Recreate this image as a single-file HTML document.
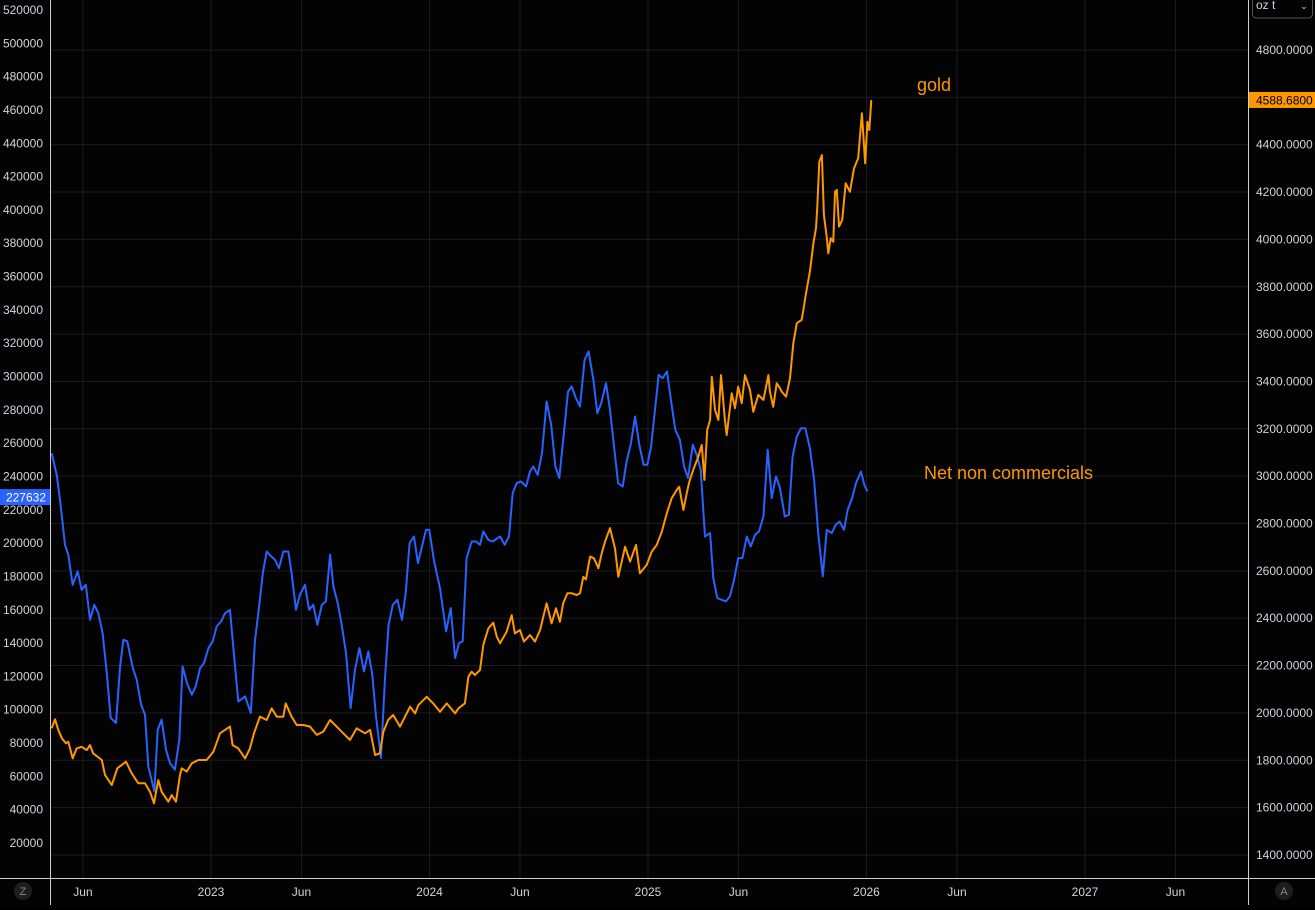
<!DOCTYPE html>
<html><head><meta charset="utf-8"><style>
html,body{margin:0;padding:0;background:#000;}
body{width:1315px;height:905px;overflow:hidden;font-family:"Liberation Sans",sans-serif;}
svg text{font-family:"Liberation Sans",sans-serif;}
</style></head><body>
<svg id="chart" width="1315" height="905" xmlns="http://www.w3.org/2000/svg">
<rect x="0" y="0" width="1315" height="905" fill="#030303"/>
<g id="grid"></g>
<g id="series"></g>
<g id="axes"></g>
<text x="917" y="91" fill="#ff9800" font-size="18">gold</text>
<text x="924" y="479" fill="#ff9800" font-size="18">Net non commercials</text>
</svg>
<script>
const blueT=[2022.271,2022.294,2022.309,2022.321,2022.332,2022.347,2022.367,2022.390,2022.408,2022.427,2022.446,2022.466,2022.484,2022.504,2022.523,2022.541,2022.565,2022.584,2022.599,2022.617,2022.642,2022.660,2022.680,2022.698,2022.713,2022.741,2022.756,2022.774,2022.794,2022.812,2022.835,2022.855,2022.870,2022.890,2022.912,2022.930,2022.950,2022.968,2022.988,2023.008,2023.026,2023.046,2023.065,2023.087,2023.107,2023.125,2023.156,2023.182,2023.201,2023.220,2023.237,2023.255,2023.275,2023.293,2023.311,2023.331,2023.354,2023.369,2023.389,2023.407,2023.430,2023.449,2023.468,2023.487,2023.507,2023.526,2023.545,2023.560,2023.580,2023.598,2023.618,2023.639,2023.659,2023.679,2023.700,2023.720,2023.738,2023.755,2023.778,2023.796,2023.813,2023.832,2023.853,2023.874,2023.891,2023.909,2023.929,2023.947,2023.964,2023.984,2023.999,2024.021,2024.048,2024.076,2024.097,2024.117,2024.135,2024.152,2024.170,2024.193,2024.213,2024.231,2024.246,2024.269,2024.289,2024.323,2024.344,2024.364,2024.381,2024.399,2024.419,2024.442,2024.460,2024.475,2024.495,2024.515,2024.536,2024.557,2024.576,2024.594,2024.612,2024.634,2024.651,2024.670,2024.689,2024.710,2024.728,2024.750,2024.768,2024.786,2024.808,2024.826,2024.846,2024.863,2024.884,2024.902,2024.921,2024.941,2024.960,2024.980,2024.997,2025.014,2025.032,2025.049,2025.067,2025.087,2025.105,2025.125,2025.146,2025.165,2025.183,2025.205,2025.223,2025.241,2025.261,2025.284,2025.299,2025.317,2025.356,2025.375,2025.394,2025.413,2025.432,2025.452,2025.470,2025.490,2025.508,2025.528,2025.548,2025.566,2025.586,2025.604,2025.626,2025.645,2025.662,2025.681,2025.700,2025.720,2025.741,2025.760,2025.779,2025.800,2025.818,2025.841,2025.859,2025.877,2025.897,2025.914,2025.934,2025.952,2025.975,2025.990,2026.004];
const blueV=[254,241,226,212,199,193,175,183,172,175,154,163,158,146,122,95,92,126,142,141,125,118,103,97,66,51,88,94,76,68,64,82,126,116,109,114,125,128,137,141,150,153,158,160,130,105,108,98,141,162,182,195,192,190,185,195,195,182,160,169,175,160,163,151,163,165,193,174,164,151,134,101,124,137,123,135,121,96,71,118,151,163,166,154,170,200,204,188,197,208,208,189,173,147,161,131,140,141,191,201,201,199,207,202,201,204,199,204,230,236,237,234,243,246,241,254,285,271,246,239,262,291,294,287,282,310,315,298,278,284,296,280,256,236,234,249,259,276,259,247,247,258,280,301,299,303,286,268,262,246,239,259,253,244,204,206,179,167,165,168,178,191,191,204,198,205,207,216,256,227,240,233,216,217,252,264,269,269,257,238,206,180,208,206,211,213,208,220,227,236,243,235,231];
const goldT=[2022.271,2022.286,2022.301,2022.317,2022.336,2022.347,2022.367,2022.385,2022.408,2022.431,2022.446,2022.461,2022.500,2022.515,2022.546,2022.571,2022.611,2022.637,2022.667,2022.698,2022.721,2022.739,2022.759,2022.774,2022.805,2022.820,2022.840,2022.858,2022.866,2022.889,2022.912,2022.942,2022.980,2023.011,2023.041,2023.064,2023.087,2023.099,2023.125,2023.156,2023.178,2023.197,2023.224,2023.255,2023.278,2023.301,2023.331,2023.342,2023.369,2023.392,2023.422,2023.453,2023.484,2023.514,2023.545,2023.575,2023.613,2023.636,2023.667,2023.705,2023.728,2023.751,2023.773,2023.789,2023.811,2023.834,2023.865,2023.888,2023.911,2023.934,2023.949,2023.987,2024.017,2024.048,2024.079,2024.117,2024.132,2024.162,2024.178,2024.193,2024.208,2024.231,2024.246,2024.269,2024.292,2024.308,2024.323,2024.353,2024.376,2024.391,2024.414,2024.432,2024.460,2024.483,2024.506,2024.536,2024.559,2024.579,2024.597,2024.612,2024.631,2024.651,2024.674,2024.689,2024.704,2024.716,2024.735,2024.753,2024.773,2024.788,2024.803,2024.826,2024.849,2024.864,2024.895,2024.918,2024.945,2024.963,2024.994,2025.017,2025.040,2025.063,2025.086,2025.108,2025.131,2025.143,2025.162,2025.177,2025.189,2025.207,2025.230,2025.246,2025.258,2025.271,2025.284,2025.292,2025.307,2025.322,2025.334,2025.352,2025.360,2025.383,2025.398,2025.413,2025.429,2025.444,2025.467,2025.482,2025.505,2025.528,2025.551,2025.558,2025.573,2025.589,2025.604,2025.612,2025.632,2025.650,2025.665,2025.681,2025.703,2025.711,2025.723,2025.741,2025.757,2025.769,2025.775,2025.784,2025.796,2025.805,2025.818,2025.825,2025.836,2025.848,2025.856,2025.864,2025.874,2025.889,2025.905,2025.924,2025.943,2025.962,2025.979,2025.994,2026.004,2026.013,2026.022];
const goldV=[1935,1973,1928,1893,1872,1878,1808,1850,1857,1843,1864,1829,1801,1738,1695,1766,1794,1745,1703,1703,1667,1618,1716,1667,1625,1653,1625,1738,1766,1752,1787,1801,1801,1836,1914,1928,1942,1864,1850,1808,1850,1914,1984,1970,2019,1984,1984,2040,1984,1949,1949,1942,1907,1921,1970,1942,1907,1886,1935,1914,1928,1822,1829,1921,1970,1991,1942,1984,2026,1998,2033,2068,2040,2005,2040,1998,2019,2040,2153,2174,2160,2181,2287,2357,2381,2322,2294,2343,2413,2336,2350,2301,2329,2301,2350,2463,2378,2442,2385,2463,2505,2505,2498,2505,2575,2564,2660,2653,2611,2674,2723,2780,2695,2575,2702,2639,2709,2590,2625,2681,2709,2765,2843,2906,2941,2955,2857,2927,2976,3026,3082,3132,2984,3195,3237,3420,3279,3237,3427,3237,3174,3350,3287,3378,3308,3427,3364,3272,3343,3322,3427,3357,3293,3392,3371,3357,3336,3413,3561,3646,3660,3702,3772,3864,3984,4047,4138,4328,4356,4103,4011,3941,4005,3990,4201,4209,4054,4082,4237,4201,4300,4343,4533,4321,4497,4462,4589];
const leftTicks=[20,40,60,80,100,120,140,160,180,200,220,240,260,280,300,320,340,360,380,400,420,440,460,480,500,520];
const rightTicks=[1400,1600,1800,2000,2200,2400,2600,2800,3000,3200,3400,3600,3800,4000,4200,4400,4600,4800];
const xTickT=[2022.414,2023.0,2023.414,2024.0,2024.414,2025.0,2025.414,2026.0,2026.414,2027.0,2027.414];
const xTickLbl=["Jun","2023","Jun","2024","Jun","2025","Jun","2026","Jun","2027","Jun"];
const lastBlue=227632, lastGold="4588.6800";

const NS="http://www.w3.org/2000/svg";
function xOf(t){return 211+(t-2023)*218.5;}
function yL(k){return 10+(520-k)/20*33.32;}
function yR(v){return 50+(4800-v)/200*47.35;}
function mk(tag,attrs,parent){const e=document.createElementNS(NS,tag);for(const k in attrs)e.setAttribute(k,attrs[k]);parent.appendChild(e);return e;}
const grid=document.getElementById('grid'),series=document.getElementById('series'),axes=document.getElementById('axes');
rightTicks.forEach(v=>{const l=mk('line',{x1:50,x2:1248,y1:yR(v),y2:yR(v),stroke:'#1c1c1f','stroke-width':1},grid);

});
xTickT.forEach(t=>{const l=mk('line',{x1:xOf(t),x2:xOf(t),y1:0,y2:878,stroke:'#1c1c1f','stroke-width':1},grid);

});
function path(T,V,yf,color,name){let d='';T.forEach((t,i)=>{d+=(i?'L':'M')+xOf(t).toFixed(1)+','+yf(V[i]).toFixed(1);});
const p=mk('path',{d:d,fill:'none',stroke:color,'stroke-width':2,'stroke-linejoin':'round'},series);

}
path(blueT,blueV,yL,'#2962ff','net-non-commercials-line');
path(goldT,goldV,yR,'#ff9800','gold-price-line');
// axes borders
mk('rect',{x:0,y:0,width:50,height:905,fill:'#030303'},axes);
mk('rect',{x:1248,y:0,width:67,height:905,fill:'#030303'},axes);
mk('rect',{x:0,y:878,width:1315,height:27,fill:'#030303'},axes);
mk('line',{x1:50.5,x2:50.5,y1:0,y2:905,stroke:'#cfcfcf','stroke-width':1},axes);
mk('line',{x1:1248.5,x2:1248.5,y1:0,y2:905,stroke:'#cfcfcf','stroke-width':1},axes);
mk('line',{x1:0,x2:1315,y1:878.5,y2:878.5,stroke:'#cfcfcf','stroke-width':1},axes);
leftTicks.forEach(k=>{const t=mk('text',{x:43,y:yL(k)+4,fill:'#d1d4dc','font-size':12,'text-anchor':'end'},axes);t.textContent=String(k*1000);

});
rightTicks.forEach(v=>{const t=mk('text',{x:1256,y:yR(v)+4,fill:'#d1d4dc','font-size':12},axes);t.textContent=v.toFixed(4);

});
xTickT.forEach((t,i)=>{const e=mk('text',{x:xOf(t),y:896,fill:'#d1d4dc','font-size':12,'text-anchor':'middle'},axes);e.textContent=xTickLbl[i];

});
// last value labels
const by=yL(lastBlue/1000);
const bb=mk('rect',{x:0,y:by-8,width:50,height:16,fill:'#2962ff'},axes);


const bt=mk('text',{x:46,y:by+4.5,fill:'#fff','font-size':12,'text-anchor':'end'},axes);bt.textContent=String(lastBlue);
const gy=yR(goldV[goldV.length-1]);
const gb=mk('rect',{x:1249,y:gy-8,width:66,height:16,fill:'#ff9800'},axes);


const gt=mk('text',{x:1256,y:gy+4.5,fill:'#000','font-size':12},axes);gt.textContent=lastGold;
// unit dropdown
const dd=mk('rect',{x:1252.5,y:-6,width:60,height:24,rx:4,fill:'none',stroke:'#555'},axes);


const dt=mk('text',{x:1256,y:9,fill:'#d1d4dc','font-size':12},axes);dt.textContent='oz t';
const dc=mk('text',{x:1304,y:9,fill:'#d1d4dc','font-size':9,'text-anchor':'middle'},axes);dc.textContent='⌄';
// corner buttons
const z=mk('circle',{cx:23,cy:891,r:9,fill:'#1e1e1e'},axes);


const zt=mk('text',{x:23,y:895,fill:'#888','font-size':11,'text-anchor':'middle'},axes);zt.textContent='Z';
const a=mk('circle',{cx:1284,cy:891,r:9,fill:'#1e1e1e'},axes);


const at=mk('text',{x:1284,y:895,fill:'#888','font-size':11,'text-anchor':'middle'},axes);at.textContent='A';
</script>
</body></html>
